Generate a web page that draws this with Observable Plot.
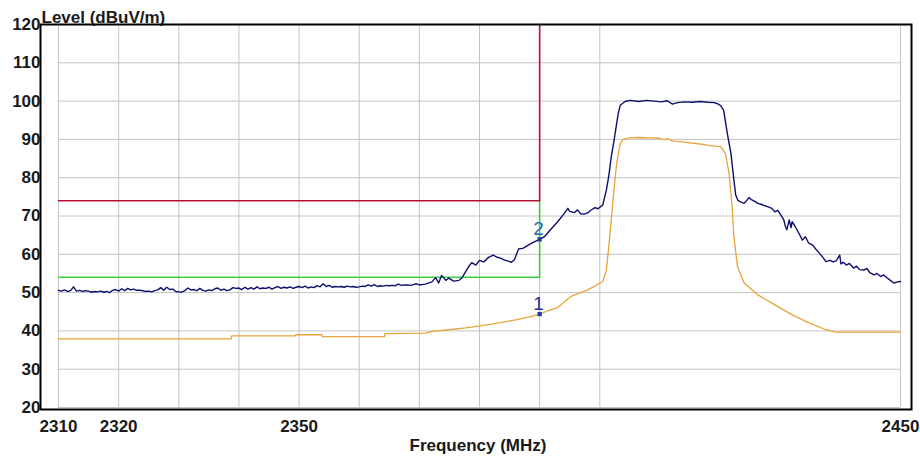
<!DOCTYPE html>
<html><head><meta charset="utf-8">
<script src="https://cdn.jsdelivr.net/npm/d3@7"></script>
<script src="https://cdn.jsdelivr.net/npm/@observablehq/plot@0.6"></script>
<style>body{margin:0;background:#fff;} #chart svg{display:block;}</style>
</head><body><div id="chart"></div>
<script>
// ---- data ----
const yTicks = [20, 30, 40, 50, 60, 70, 80, 90, 100, 110, 120];
const yGridLevels = [20, 30, 40, 50, 60, 70, 80, 90, 100, 110];
const xTickLabels = [2310, 2320, 2350, 2450];
const xGridFreqs = [2310, 2320, 2330, 2340, 2350, 2360, 2370, 2380, 2390, 2400, 2450];
const peakLimit = [[2310, 74], [2390, 74], [2390, 120]];
const avgLimit = [[2310, 54], [2390, 54], [2390, 74]];
const markerNames = ["1", "2"];
const markerFreqs = [2390, 2390];
const markerLevels = [44.4, 63.9];

// Peak trace (blue): [MHz, dBuV/m]
const peakTrace = [
[2310.0,50.6],[2310.5,50.4],[2311.0,50.7],[2311.5,50.3],[2312.0,50.5],[2312.5,51.5],[2313.0,50.4],[2313.5,50.6],
[2314.0,50.3],[2314.5,50.5],[2315.0,50.4],[2315.5,50.1],[2316.0,50.3],[2316.5,50.2],[2317.0,50.4],[2317.5,50.1],
[2318.0,50.3],[2318.5,50.0],[2319.0,50.6],[2319.5,50.8],[2320.0,50.4],[2320.5,51.0],[2321.0,50.5],[2321.5,51.1],
[2322.0,50.7],[2322.5,50.9],[2323.0,50.6],[2323.5,50.6],[2324.0,50.5],[2324.5,50.3],[2325.0,50.4],[2325.5,50.2],
[2326.0,50.5],[2326.5,50.7],[2327.0,51.3],[2327.5,50.6],[2328.0,51.4],[2328.5,50.8],[2329.0,50.9],[2329.5,50.3],
[2330.0,50.2],[2330.5,50.1],[2331.0,50.5],[2331.5,51.2],[2332.0,50.7],[2332.5,50.8],[2333.0,50.5],[2333.5,51.1],
[2334.0,50.6],[2334.5,50.4],[2335.0,50.7],[2335.5,50.5],[2336.0,51.0],[2336.5,51.2],[2337.0,50.6],[2337.5,50.9],
[2338.0,50.5],[2338.5,50.7],[2339.0,51.3],[2339.5,51.1],[2340.0,51.2],[2340.5,50.8],[2341.0,51.4],[2341.5,50.9],
[2342.0,51.3],[2342.5,50.9],[2343.0,51.5],[2343.5,51.0],[2344.0,51.2],[2344.5,51.1],[2345.0,51.4],[2345.5,50.9],
[2346.0,51.3],[2346.5,51.6],[2347.0,51.1],[2347.5,51.4],[2348.0,51.2],[2348.5,51.5],[2349.0,51.1],[2349.5,51.4],
[2350.0,51.6],[2350.5,51.3],[2351.0,51.7],[2351.5,51.2],[2352.0,51.5],[2352.5,51.3],[2353.0,51.8],[2353.5,51.5],
[2354.0,52.3],[2354.5,51.6],[2355.0,51.9],[2355.5,51.4],[2356.0,51.6],[2356.5,51.5],[2357.0,51.6],[2357.5,51.4],
[2358.0,51.7],[2358.5,51.5],[2359.0,51.6],[2359.5,51.4],[2360.0,51.5],[2360.5,51.7],[2361.0,51.6],[2361.5,52.0],
[2362.0,51.7],[2362.5,52.1],[2363.0,51.6],[2363.5,51.8],[2364.0,51.7],[2364.5,51.9],[2365.0,51.8],[2365.5,51.9],
[2366.0,51.8],[2366.5,52.2],[2367.0,51.9],[2367.5,52.0],[2368.0,52.0],[2368.5,51.9],[2369.0,52.1],[2369.5,52.3],
[2370.0,52.0],[2371.0,52.2],[2372.1,52.8],[2372.7,53.9],[2373.2,52.5],[2373.7,54.5],[2374.4,53.2],[2374.9,53.8],
[2375.7,53.0],[2376.6,53.2],[2377.1,53.9],[2377.7,55.5],[2378.2,56.8],[2378.7,57.8],[2379.4,57.2],[2380.0,58.4],
[2380.7,58.0],[2381.5,59.2],[2382.3,59.8],[2382.8,59.3],[2383.5,59.0],[2384.2,58.5],[2384.8,58.2],[2385.3,57.9],
[2385.8,58.6],[2386.5,61.4],[2387.3,61.6],[2388.1,62.4],[2389.0,63.2],[2390.0,63.9],[2390.8,64.6],[2391.8,66.4],
[2393.0,68.5],[2394.1,70.7],[2394.7,72.0],[2395.0,71.2],[2395.8,70.9],[2396.3,71.6],[2396.8,70.6],[2397.4,70.5],
[2398.0,70.8],[2398.5,71.5],[2399.2,72.2],[2399.7,71.9],[2400.5,72.9],[2401.1,76.8],[2401.5,80.5],[2401.9,85.4],
[2402.4,90.0],[2402.8,94.1],[2403.1,97.0],[2403.4,98.9],[2404.2,99.9],[2405.1,100.2],[2406.5,99.9],[2407.8,100.2],
[2409.0,100.0],[2410.2,99.8],[2411.2,100.1],[2412.1,99.2],[2412.9,99.6],[2414.1,99.8],[2415.3,99.7],[2416.7,99.9],
[2418.0,99.7],[2419.0,99.6],[2419.6,99.3],[2420.1,98.8],[2420.6,97.6],[2421.2,91.6],[2421.8,86.4],[2422.3,79.4],
[2422.6,75.5],[2423.0,74.0],[2423.5,73.6],[2424.0,73.3],[2424.5,74.2],[2424.8,74.8],[2425.2,74.3],[2425.7,73.9],
[2426.3,73.3],[2426.9,73.0],[2428.0,72.4],[2428.6,72.0],[2429.1,71.1],[2429.6,71.5],[2430.1,70.3],[2430.6,69.0],
[2430.8,67.6],[2431.1,66.4],[2431.5,69.0],[2431.8,67.0],[2432.0,68.5],[2432.5,67.2],[2433.1,65.5],[2433.7,63.7],
[2434.2,64.6],[2434.7,63.0],[2435.4,62.4],[2435.9,61.4],[2436.5,60.3],[2437.1,59.2],[2437.6,58.1],[2438.3,58.4],
[2438.8,58.0],[2439.3,58.3],[2439.9,59.8],[2440.1,57.5],[2440.5,57.9],[2441.0,57.2],[2441.5,57.6],[2442.2,56.4],
[2442.7,56.9],[2443.2,56.0],[2443.9,55.9],[2444.4,56.3],[2444.9,55.2],[2445.6,54.6],[2446.1,55.0],[2446.7,54.2],
[2447.2,54.6],[2447.8,53.8],[2448.3,53.2],[2448.9,52.5],[2449.5,52.8],[2450.0,52.9]
];

// Average trace (orange): [MHz, dBuV/m]
const avgTrace = [
[2310.0,37.9],[2338.7,37.9],[2338.8,38.7],[2349.3,38.7],[2349.4,39.0],[2353.8,39.0],[2353.9,38.5],[2364.2,38.5],
[2364.3,39.3],[2371.0,39.4],[2372.1,39.9],[2374.9,40.3],[2377.7,40.8],[2380.4,41.4],[2383.2,42.1],[2386.0,42.9],
[2388.7,43.8],[2390.0,44.4],[2391.3,45.2],[2393.0,46.1],[2395.2,49.0],[2398.0,50.7],[2400.5,52.9],[2401.1,55.9],
[2401.6,63.7],[2402.2,74.2],[2402.8,83.7],[2403.4,88.9],[2403.9,90.0],[2404.8,90.4],[2406.5,90.5],[2408.2,90.4],
[2409.9,90.3],[2410.7,89.9],[2411.2,90.2],[2412.1,89.6],[2413.3,89.4],[2415.0,89.1],[2416.7,88.8],[2418.4,88.4],
[2420.1,88.1],[2420.9,86.3],[2421.5,81.1],[2422.0,72.4],[2422.3,64.6],[2422.9,56.8],[2424.0,52.5],[2426.3,49.4],
[2429.1,46.8],[2432.0,44.2],[2434.8,42.1],[2437.6,40.3],[2439.3,39.7],[2450.0,39.7]
];

// ---- chart ----
const markers = markerNames.map((n, i) => ({n, f: markerFreqs[i], v: markerLevels[i]}));
const font = "Liberation Sans, Arial, Helvetica, sans-serif";
const textColor = "#1a1a1a";

const chart = Plot.plot({
  width: 920,
  height: 457,
  marginLeft: 40,
  marginRight: 9,
  marginTop: 24,
  marginBottom: 48,
  style: {fontFamily: font, background: "#fff", color: textColor},
  x: {domain: [2307.007, 2451.83]},
  y: {domain: [19.48, 120]},
  marks: [
    Plot.ruleY(yGridLevels, {x1: 2310, x2: 2450, stroke: "#c4c4c4", strokeWidth: 1}),
    Plot.ruleX(xGridFreqs, {y1: 20, y2: 120, stroke: "#c4c4c4", strokeWidth: 1}),
    Plot.line(avgLimit, {x: d => d[0], y: d => d[1], stroke: "#3ccf3c", strokeWidth: 1.6}),
    Plot.line(peakLimit, {x: d => d[0], y: d => d[1], stroke: "#b3122e", strokeWidth: 1.6}),
    Plot.line(avgTrace, {x: d => d[0], y: d => d[1], stroke: "#e8a43c", strokeWidth: 1.3}),
    Plot.line(peakTrace, {x: d => d[0], y: d => d[1], stroke: "#0e0e6e", strokeWidth: 1.4}),
    Plot.dot(markers, {x: "f", y: "v", symbol: "square", r: 2.4, fill: "#1f3a9c"}),
    Plot.text(markers, {x: "f", y: "v", text: "n", dy: -10, dx: -1, fontSize: 19, fill: d => d.n === "1" ? "#1d3592" : "#2d68aa"}),
    Plot.frame({stroke: "#000", strokeWidth: 2}),
    Plot.axisY(yTicks, {tickSize: 0, tickPadding: 0, fontSize: 17, fontWeight: "bold", label: null, fill: textColor}),
    Plot.axisX(xTickLabels, {tickSize: 0, tickPadding: 10, fontSize: 17, fontWeight: "bold", label: null, tickFormat: d => String(d), fill: textColor}),
    Plot.text(["Level (dBuV/m)"], {frameAnchor: "top-left", dx: 1, dy: -2, textAnchor: "start", lineAnchor: "bottom", fontSize: 17, fontWeight: "bold", fill: textColor}),
    Plot.text(["Frequency (MHz)"], {frameAnchor: "bottom", dx: 2, dy: 41, lineAnchor: "bottom", fontSize: 17, fontWeight: "bold", fill: textColor})
  ]
});
document.getElementById("chart").appendChild(chart);
</script>
</body></html>
